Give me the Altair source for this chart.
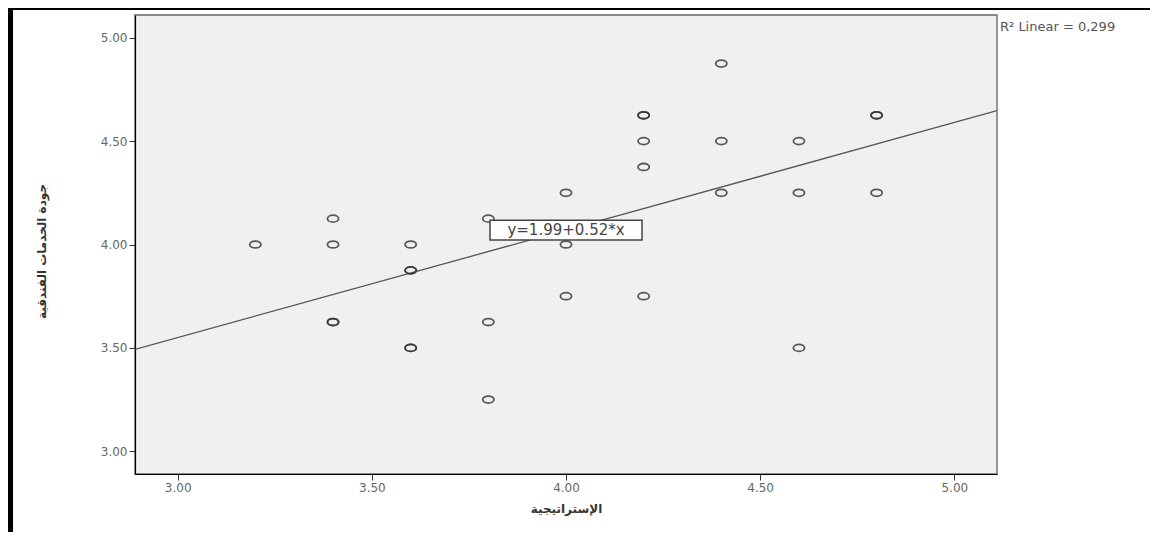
import altair as alt
import pandas as pd

# Scatter data; duplicates reproduce the bolder circles
xs = [3.2, 3.4, 3.4, 3.4, 3.4, 3.6, 3.6, 3.6, 3.6, 3.6, 3.8, 3.8, 3.8,
      4.0, 4.0, 4.0, 4.2, 4.2, 4.2, 4.2, 4.2, 4.4, 4.4, 4.4, 4.6, 4.6, 4.6, 4.8, 4.8, 4.8]
ys = [4.0, 4.125, 4.0, 3.625, 3.625, 4.0, 3.875, 3.875, 3.5, 3.5, 4.125, 3.625, 3.25,
      4.25, 4.0, 3.75, 4.625, 4.625, 4.5, 4.375, 3.75, 4.875, 4.5, 4.25, 4.5, 4.25, 3.5, 4.625, 4.625, 4.25]

intercept = 1.99
slope = 0.52
r2_text = "R\u00b2 Linear = 0,299"
eq_text = "y=1.99+0.52*x"
eq_pos_x = [4.0]
eq_pos_y = [4.07]

x_title = "الإستراتيجية"
y_title = "جودة الخدمات الفندقية"

x_domain = [2.89, 5.11]
y_domain = [2.89, 5.11]
tick_vals = [3.0, 3.5, 4.0, 4.5, 5.0]

pts = pd.DataFrame({"x": xs, "y": ys})
line_df = pd.DataFrame({"x": x_domain, "y": [intercept + slope * v for v in x_domain]})
eq_df = pd.DataFrame({"x": eq_pos_x, "y": eq_pos_y, "t": [eq_text]})
one = alt.Data(values=[{}])

xscale = alt.Scale(domain=x_domain, nice=False, zero=False)
yscale = alt.Scale(domain=y_domain, nice=False, zero=False)

xaxis = alt.Axis(values=tick_vals, format=".2f", title=x_title, grid=False,
                 titlePadding=10)
yaxis = alt.Axis(values=tick_vals, format=".2f", title=y_title, grid=False,
                 titleX=-87, titleY=236, titleAngle=-90)

ellipse = "M -1 0 A 1 0.62 0 1 0 1 0 A 1 0.62 0 1 0 -1 0 Z"

points = alt.Chart(pts).mark_point(shape=ellipse, size=125, filled=False,
                                   stroke="#333333", strokeWidth=1.8, opacity=0.8).encode(
    x=alt.X("x:Q", scale=xscale, axis=xaxis),
    y=alt.Y("y:Q", scale=yscale, axis=yaxis),
)

line = alt.Chart(line_df).mark_line(color="#555555", strokeWidth=1.3, clip=True).encode(
    x=alt.X("x:Q", scale=xscale),
    y=alt.Y("y:Q", scale=yscale),
)

box_shape = "M -1 -0.13 H 1 V 0.13 H -1 Z"
eq_box = alt.Chart(eq_df).mark_point(shape=box_shape, size=152 * 152, filled=True,
                                     fill="white", stroke="#444444", strokeWidth=1.5,
                                     opacity=1).encode(
    x=alt.X("x:Q", scale=xscale),
    y=alt.Y("y:Q", scale=yscale),
)
eq_label = alt.Chart(eq_df).mark_text(font="DejaVu Sans", fontSize=15, color="#444444",
                                      align="center", baseline="middle").encode(
    x=alt.X("x:Q", scale=xscale),
    y=alt.Y("y:Q", scale=yscale),
    text="t:N",
)

r2 = alt.Chart(one).mark_text(font="DejaVu Sans", fontSize=13, color="#555555",
                              align="left", baseline="middle").encode(
    x=alt.value(865), y=alt.value(12), text=alt.value(r2_text)
)

frame_left = alt.Chart(one).mark_rule(color="black", strokeWidth=5).encode(
    x=alt.value(-124.5), y=alt.value(-7), y2=alt.value(517)
)
frame_top = alt.Chart(one).mark_rule(color="black", strokeWidth=2).encode(
    y=alt.value(-6), x=alt.value(-127), x2=alt.value(1015)
)

chart = alt.layer(line, points, eq_box, eq_label, r2, frame_left, frame_top).properties(
    width=862, height=459,
    padding={"left": 127, "top": 7, "right": 153, "bottom": 58},
    autosize=alt.AutoSizeParams(type="none"),
).configure_view(
    fill="#f0f0f0", stroke="#8a8a8a", strokeWidth=1.8
).configure_axis(
    domainColor="black", domainWidth=1.2, tickColor="#333333", tickSize=6,
    labelFont="DejaVu Sans", labelFontSize=12, labelColor="#666666",
    titleFont="DejaVu Sans", titleFontSize=12, titleFontWeight="bold", titleColor="#333333",
)

chart.save("out.html", embed_options={"renderer": "svg", "actions": False})
